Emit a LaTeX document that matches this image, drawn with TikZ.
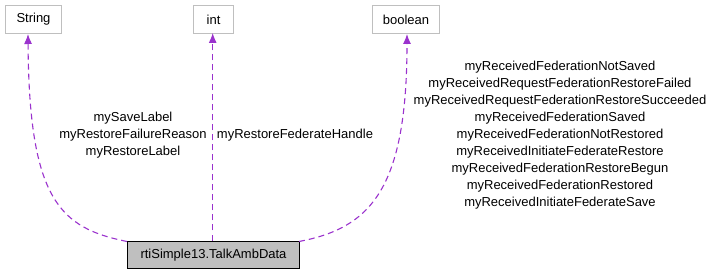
\documentclass[tikz,border=0pt]{standalone}
\usepackage{fontspec}
\setmainfont{Liberation Sans}
\usetikzlibrary{arrows.meta}
\definecolor{edgec}{HTML}{9A32CD}
\definecolor{boxgray}{HTML}{BFBFBF}
\begin{document}
\begin{tikzpicture}[x=1pt,y=-1pt,
  typebox/.style={draw=boxgray,fill=white,line width=1pt,inner sep=0pt,anchor=north west,font=\fontsize{13}{17}\selectfont},
  mainbox/.style={draw=black,fill=boxgray,line width=1pt,inner sep=0pt,anchor=north west,font=\fontsize{13}{17}\selectfont},
  dep/.style={draw=edgec,line width=1.1pt,dash pattern=on 6pt off 4pt,-{Latex[length=10pt,width=8pt]}},
  lbl/.style={font=\fontsize{13}{17}\selectfont,align=center,inner sep=0pt}]
\useasboundingbox (0,0) rectangle (712,275);
\node[typebox,minimum width=56pt,minimum height=28pt] (str) at (5,5) {String};
\node[typebox,minimum width=40pt,minimum height=28pt] (int) at (193,5) {int};
\node[typebox,minimum width=67pt,minimum height=28pt] (bool) at (372,5) {boolean};
\node[mainbox,minimum width=172pt,minimum height=27pt] (main) at (127,241) {rtiSimple13.TalkAmbData};
\coordinate (m1) at (127,241.5);
\coordinate (m3) at (299,241.5);
\coordinate (i1) at (212.7,240.5);
\coordinate (i2) at (212.7,33);
\draw[dep] (m1) .. controls (60,228) and (29,200) .. (str.south -| 28,0);
\draw[dep,line width=1pt] (i1) -- (i2);
\draw[dep] (m3) .. controls (370,228) and (407,190) .. (bool.south -| 407,0);
\node[lbl] (l1) at (133,135) {mySaveLabel\\myRestoreFailureReason\\myRestoreLabel};
\node[lbl] (l2) at (295,135) {myRestoreFederateHandle};
\node[lbl,align=center] (l3) at (560,135) {myReceivedFederationNotSaved\\myReceivedRequestFederationRestoreFailed\\myReceivedRequestFederationRestoreSucceeded\\myReceivedFederationSaved\\myReceivedFederationNotRestored\\myReceivedInitiateFederateRestore\\myReceivedFederationRestoreBegun\\myReceivedFederationRestored\\myReceivedInitiateFederateSave};
\end{tikzpicture}
\end{document}
